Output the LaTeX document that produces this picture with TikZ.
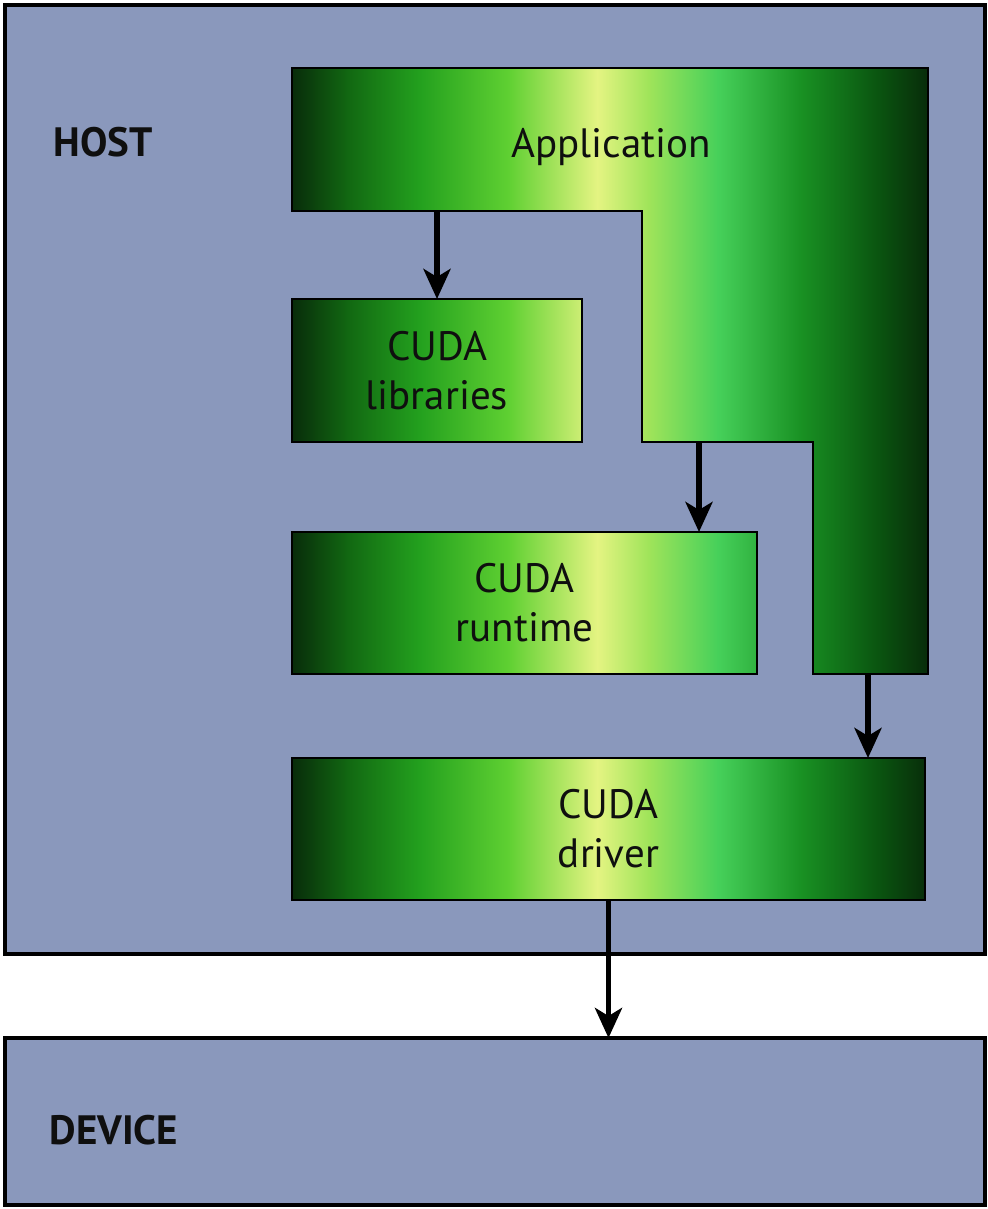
\documentclass[tikz,border=0pt]{standalone}
\usepackage{fontspec}
\setmainfont{PT Sans}
\usetikzlibrary{arrows.meta}
\definecolor{panelbg}{RGB}{138,152,188}
\definecolor{gA}{RGB}{8,44,10}
\definecolor{gB}{RGB}{18,105,18}
\definecolor{gC}{RGB}{35,160,30}
\definecolor{gD}{RGB}{95,208,50}
\definecolor{gE}{RGB}{228,244,130}
\definecolor{gF}{RGB}{160,228,90}
\definecolor{gG}{RGB}{70,208,90}
\definecolor{gH}{RGB}{25,145,35}
\definecolor{gI}{RGB}{10,85,16}
\definecolor{inkc}{RGB}{15,15,15}
\pgfdeclarehorizontalshading{cudashade}{100bp}{color(0bp)=(gA); color(25bp)=(gA); color(29.5bp)=(gB); color(35bp)=(gC); color(42bp)=(gD); color(49bp)=(gE); color(53bp)=(gF); color(58.5bp)=(gG); color(65bp)=(gH); color(71bp)=(gI); color(75bp)=(gA); color(100bp)=(gA)}
\pgfdeclarelayer{panel}
\pgfdeclarelayer{shadelayer}
\pgfsetlayers{panel,shadelayer,main}
\tikzset{
  panelbox/.style={draw=black, line width=1.6pt, fill=panelbg, rectangle, outer sep=0pt, inner sep=0pt},
  gbox/.style={draw=black, line width=1.3pt, rectangle, outer sep=0pt, inner sep=0pt, align=center, text=inkc, font=\fontsize{20.5pt}{24.5pt}\selectfont},
  region/.style={rectangle, outer sep=0pt, inner sep=0pt},
  lbl/.style={text=inkc, inner sep=0pt, font=\fontsize{20.5pt}{24.5pt}\selectfont},
  lblb/.style={text=inkc, inner sep=0pt, font=\fontsize{20.5pt}{24.5pt}\selectfont\bfseries},
  arr/.style={draw=black, line width=2.9pt, -{Stealth[length=15pt,width=13.5pt,inset=4pt]}},
  lborder/.style={draw=black, line width=1.3pt, line join=miter}
}
\begin{document}
\begin{tikzpicture}[x=0.5pt,y=-0.5pt]
\useasboundingbox (0,0) rectangle (987,1209);
\begin{pgfonlayer}{panel}
  \fill[white] (0,0) rectangle (987,1209);
  \node[panelbox, minimum width=490pt, minimum height=474.5pt] (host) at (495,479.5) {};
  \node[panelbox, minimum width=490pt, minimum height=83.5pt] (dev) at (495,1121.5) {};
\end{pgfonlayer}
% labels
\node[lblb] (hostlbl) at (103,142.5) {HOST};
\node[lblb] (devlbl) at (114,1130) {DEVICE};
% application (L-shape)
\node[region, minimum width=318pt, minimum height=71.5pt] (apptop) at (610,139.5) {};
\node[lbl] (applbl) at (611,147) {Application};
\draw[lborder] (292,68) -- (928,68) -- (928,674) -- (813,674) -- (813,442) -- (642,442) -- (642,211) -- (292,211) -- cycle;
\coordinate (armA) at (699,442);
\coordinate (armB) at (868,674);
% green boxes
\node[gbox, minimum width=145pt, minimum height=71.5pt] (lib) at (437,370.5) {CUDA\\libraries};
\node[gbox, minimum width=232.5pt, minimum height=71pt] (rt) at (524.5,603) {CUDA\\runtime};
\node[gbox, minimum width=316.5pt, minimum height=71pt] (drv) at (608.5,829) {CUDA\\driver};
% shading
\begin{pgfonlayer}{shadelayer}
  \begin{scope}
    \clip (292,68) -- (928,68) -- (928,674) -- (813,674) -- (813,442) -- (642,442) -- (642,211) -- (292,211) -- cycle
      (lib.south west) rectangle (lib.north east)
      (rt.south west) rectangle (rt.north east)
      (drv.south west) rectangle (drv.north east);
    \shade[shading=cudashade] (292,60) rectangle (928,910);
  \end{scope}
\end{pgfonlayer}
% arrows
\draw[arr] (lib.north |- apptop.south) -- (lib.north);
\draw[arr] (armA) -- (armA |- rt.north);
\draw[arr] (armB) -- (armB |- drv.north);
\draw[arr] (drv.south) -- (drv.south |- dev.north);
\end{tikzpicture}
\end{document}
